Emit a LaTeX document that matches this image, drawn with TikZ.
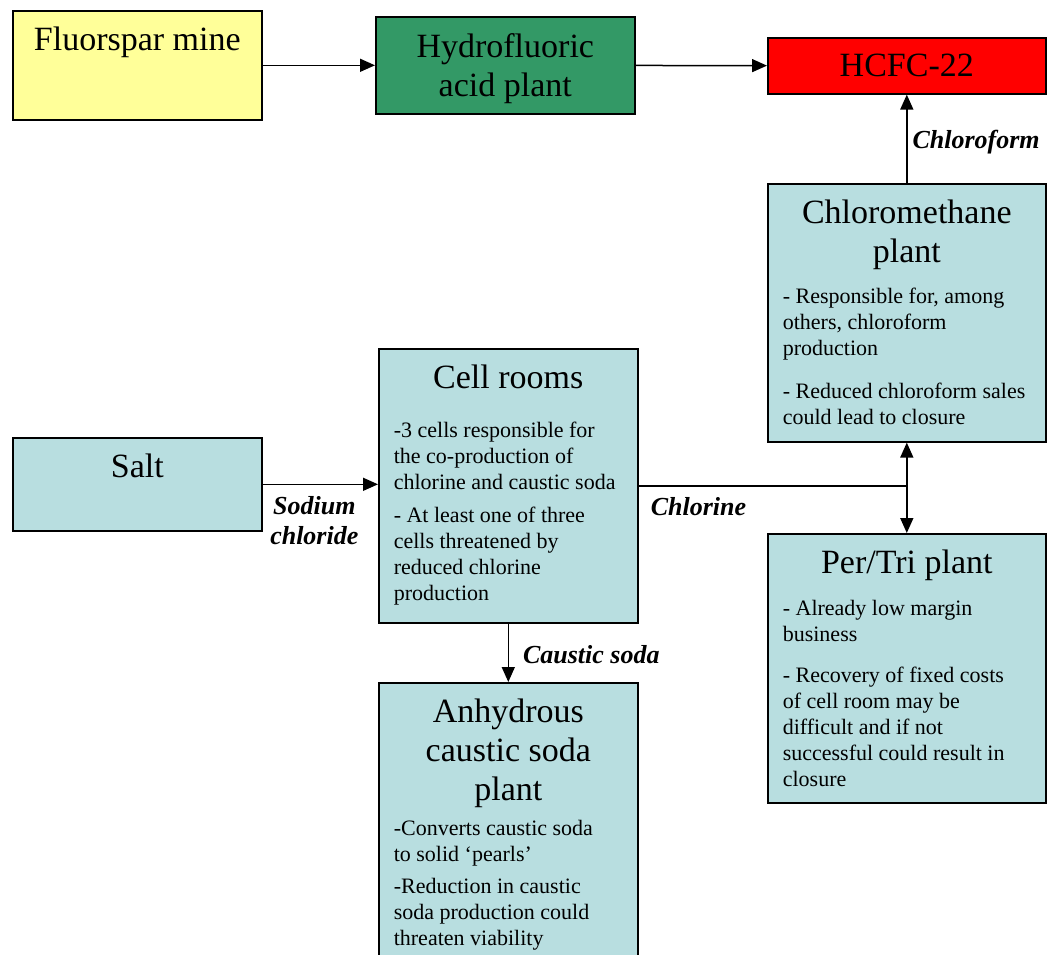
\documentclass[tikz,border=0pt]{standalone}
\usepackage{fontspec}
\setmainfont{Liberation Serif}
\usetikzlibrary{arrows.meta}
\usetikzlibrary{positioning}
\usetikzlibrary{calc}
\setlength{\parindent}{0pt}
\definecolor{mineyellow}{RGB}{255,255,153}
\definecolor{acidgreen}{RGB}{51,153,102}
\definecolor{plantblue}{RGB}{184,222,224}
% align=left fixes the word space, so give it back to the font
\newcommand{\Titre}[1]{{\centering\fontsize{34}{39}\selectfont\spaceskip=0pt\xspaceskip=0pt #1\par}}
\newcommand{\Corps}[2][15pt]{\vspace{#1}{\fontsize{22}{26}\selectfont\spaceskip=0pt\xspaceskip=0pt #2\par}}

\begin{document}
\begin{tikzpicture}[x=1pt,y=-1pt,
  box/.style={draw,line width=1.6pt,inner sep=0pt,anchor=north west},
  plant/.style={box,fill=plantblue},
  txt/.style={anchor=north,inner xsep=0pt,inner ysep=17pt,align=left},
  flow/.style={line width=1.5pt,-{Triangle[length=15pt,width=13pt]}},
  flowboth/.style={line width=1.5pt,{Triangle[length=15pt,width=13pt]}-{Triangle[length=15pt,width=13pt]}},
  tag/.style={font=\fontsize{26}{30}\selectfont\bfseries\itshape,inner sep=0pt}]
\useasboundingbox (0,0) rectangle (1047,954);
\clip (0,0) rectangle (1047,954);

% top row
\node[box,fill=mineyellow,minimum width=249pt,minimum height=109pt] (mine) at (12,10) {};
\node[txt,text width=249pt] (mine-t) at (mine.north) {\Titre{Fluorspar mine}};
\node[box,fill=acidgreen,minimum width=259pt,minimum height=97pt] (acid) at (375,16) {};
\node[txt,text width=259pt] (acid-t) at (acid.north) {\Titre{Hydrofluoric\\ acid plant}};
\node[box,fill=red,minimum width=278pt,minimum height=56pt] (hcfc) at (767,37) {};
\node[txt,text width=278pt] (hcfc-t) at (hcfc.north) {\Titre{HCFC-22}};

% plants
\node[plant,minimum width=278pt,minimum height=258pt] (chloro) at (767,183) {};
\node[txt,text width=248pt] (chloro-t) at (chloro.north) {\Titre{Chloromethane\\ plant}%
  \Corps{- Responsible for, among\\ others, chloroform\\ production}%
  \Corps[17pt]{- Reduced chloroform sales\\ could lead to closure}};

\node[plant,minimum width=249pt,minimum height=93pt] (salt) at (12,437) {};
\node[txt,text width=249pt] (salt-t) at (salt.north) {\Titre{Salt}};

\node[plant,minimum width=259pt,minimum height=274pt] (cell) at (378,348) {};
\node[txt,text width=229pt] (cell-t) at (cell.north) {\Titre{Cell rooms}%
  \Corps[23pt]{-3 cells responsible for\\ the co-production of\\ chlorine and caustic soda}%
  \Corps[7pt]{- At least one of three\\ cells threatened by\\ reduced chlorine\\ production}};

\node[plant,minimum width=278pt,minimum height=269pt] (pertri) at (767,533) {};
\node[txt,text width=248pt] (pertri-t) at (pertri.north) {\Titre{Per/Tri plant}%
  \Corps[16pt]{- Already low margin\\ business}%
  \Corps{- Recovery of fixed costs\\ of cell room may be\\ difficult and if not\\ successful could result in\\ closure}};

\node[plant,minimum width=259pt,minimum height=292pt] (anhyd) at (378,682) {};
\node[txt,text width=229pt] (anhyd-t) at (anhyd.north) {\Titre{Anhydrous\\ caustic soda\\ plant}%
  \Corps[9pt]{-Converts caustic soda\\ to solid `pearls'}%
  \Corps[6pt]{-Reduction in caustic\\ soda production could\\ threaten viability}};

% flows
\draw[flow] (mine) -- (acid);
\draw[flow] (acid) -- (hcfc);
\draw[flow] (chloro) -- (hcfc) node[tag,midway,right=5pt,yshift=-3pt] (chloroform) {Chloroform};
\draw[flow] (salt.east) -- (salt.east -| cell.west)
  node[tag,midway,below=11pt,xshift=-6pt,align=center] (nacl) {Sodium\\ chloride};
\coordinate (jn) at (chloro.south |- cell.east);
\draw[line width=1.5pt] (cell.east) -- (jn);
\node[tag,below right=11pt and 12pt of cell.east] (cl) {Chlorine};
\draw[flowboth] (chloro) -- (pertri);
\draw[flow] (cell) -- (anhyd) node[tag,midway,right=14pt,yshift=-2pt] (soda) {Caustic soda};
\end{tikzpicture}
\end{document}
